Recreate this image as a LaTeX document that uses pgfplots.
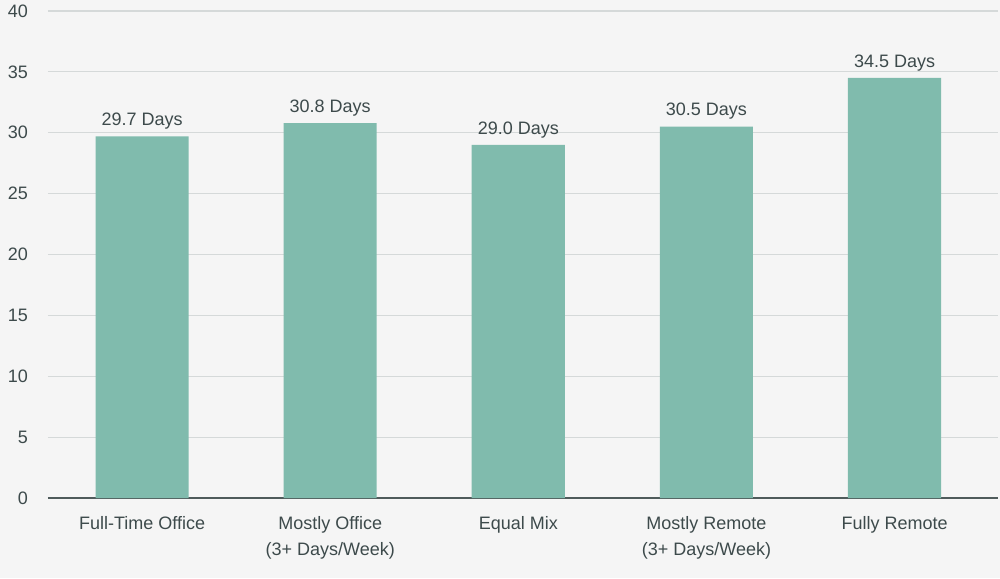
\documentclass[border=0pt]{standalone}
\usepackage{fontspec}
\setmainfont{Liberation Sans}
\usepackage{pgfplots}
\pgfplotsset{compat=1.18}

\definecolor{bgcol}{HTML}{F5F5F5}
\definecolor{barcol}{HTML}{80BBAD}
\definecolor{gridcol}{HTML}{D5D9D9}
\definecolor{basecol}{HTML}{4F5B5B}
\definecolor{txtcol}{HTML}{3D4A4B}

\begin{document}
\begin{tikzpicture}
\fill[bgcol] (-24pt,-40pt) rectangle (476pt,249pt);
\begin{axis}[
    scale only axis,
    width=475pt,
    height=243.5pt,
    ybar,
    bar width=0.495,
    xmin=-0.5, xmax=4.55,
    ymin=0, ymax=40,
    ytick={0,5,...,40},
    xtick=data,
    xticklabels={Full-Time Office,{Mostly Office\\(3+ Days/Week)},Equal Mix,{Mostly Remote\\(3+ Days/Week)},Fully Remote},
    axis x line*=bottom,
    axis y line*=left,
    y axis line style={draw=none},
    ymajorgrids,
    grid style={gridcol, line width=0.6pt},
    x axis line style={basecol, line width=0.7pt, -},
    major tick length=0pt,
    tick style={draw=none},
    yticklabel style={font=\fontsize{9}{11}\selectfont, text=txtcol, xshift=-6.5pt},
    xticklabel style={font=\fontsize{9}{13}\selectfont, text=txtcol, align=center, yshift=-5.5pt},
    /pgf/number format/assume math mode=true,
    nodes near coords={\pgfmathprintnumber[fixed,fixed zerofill,precision=1]{\pgfplotspointmeta} Days},
    every node near coord/.append style={font=\fontsize{9}{11}\selectfont, text=txtcol},
]
\addplot[fill=barcol, draw=none] coordinates {(0,29.7) (1,30.8) (2,29.0) (3,30.5) (4,34.5)};
\end{axis}
\pgfresetboundingbox
\path (-24pt,-40pt) rectangle (476pt,249pt);
\end{tikzpicture}
\end{document}
